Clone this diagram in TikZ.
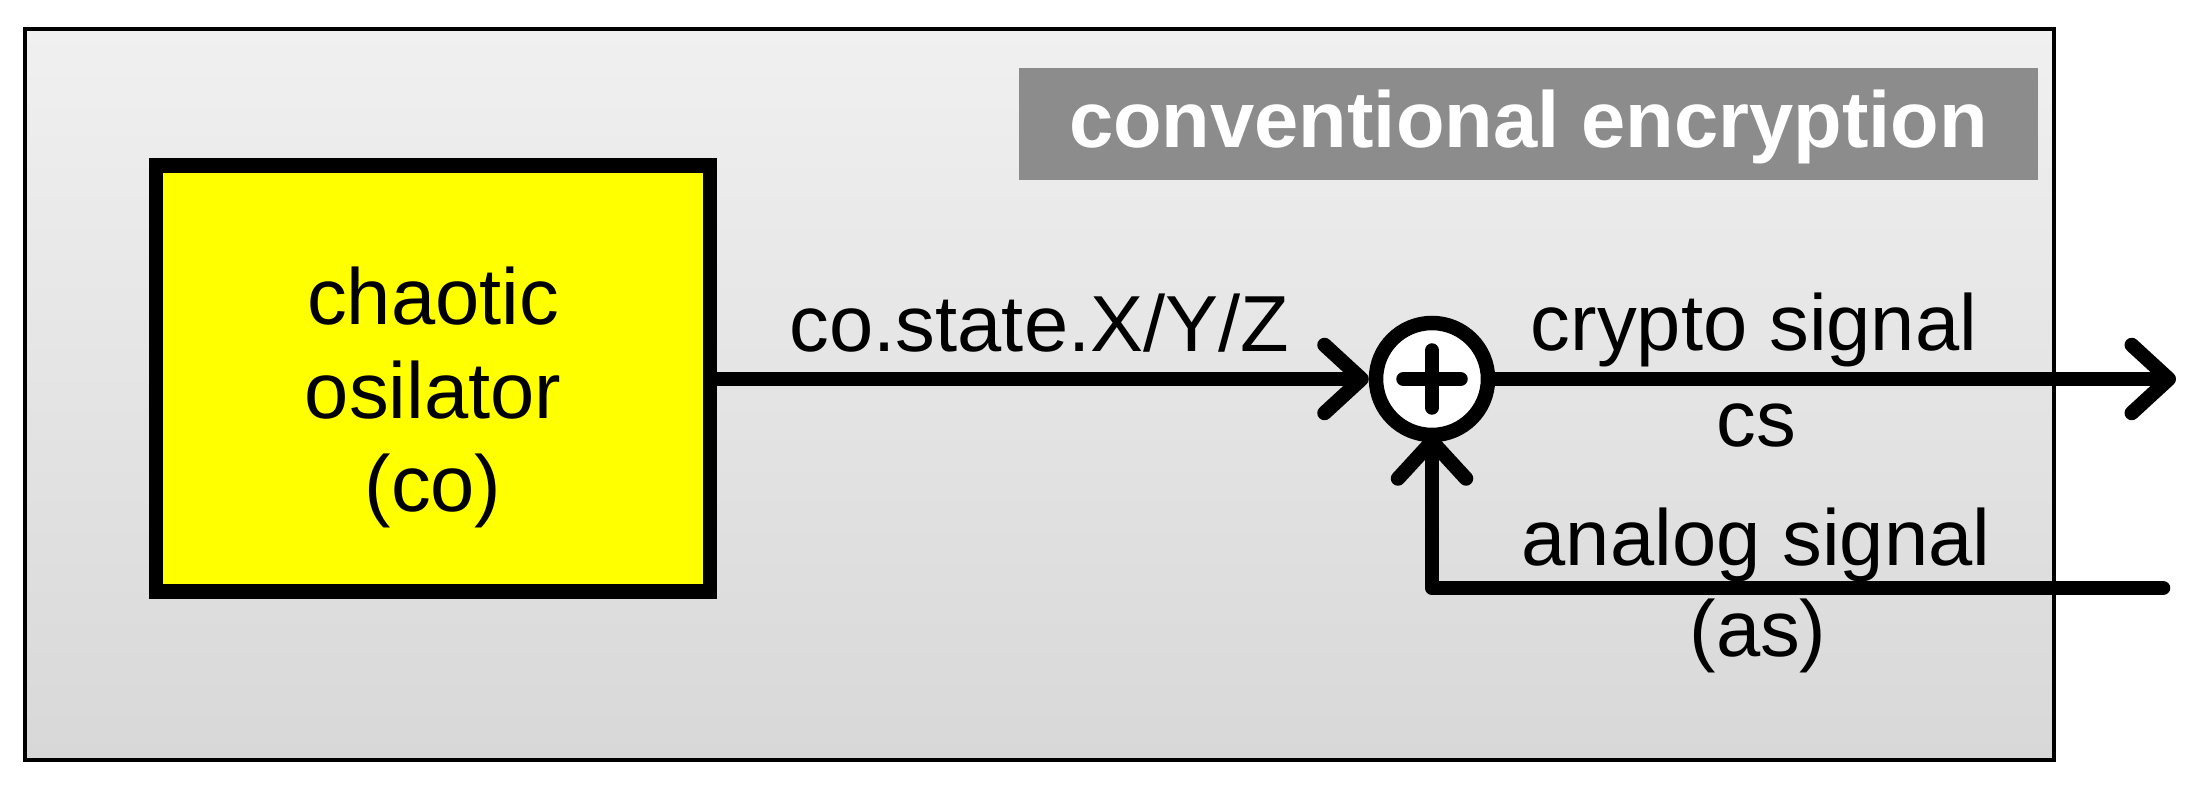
\documentclass[tikz,border=0pt]{standalone}
\usepackage{fontspec}
\setmainfont{Liberation Sans}
\usetikzlibrary{arrows.meta}
\definecolor{bgtop}{HTML}{F0F0F0}
\definecolor{bgbot}{HTML}{D8D8D8}
\definecolor{titlegray}{HTML}{8C8C8C}
\definecolor{coyellow}{HTML}{FFFF00}
\tikzset{
  lbl/.style={font=\fontsize{79.5}{93.5}\selectfont, inner sep=0pt, anchor=base},
  conn/.style={line width=14.5pt, line cap=round, line join=round, -{Straight Barb[length=37pt,width=68pt,round]}},
  cobox/.style={draw, line width=14.5pt, fill=coyellow, minimum width=554pt, minimum height=426pt, inner sep=0pt},
  sumnode/.style={circle, draw, line width=14.5pt, fill=white, minimum size=112pt, inner sep=0pt},
  plusbar/.style={line width=14.5pt, line cap=round},
  titlebox/.style={fill=titlegray, minimum width=1019pt, inner sep=0pt, text height=80pt, text depth=32pt, text=white, font=\bfseries\fontsize{79.5}{93.5}\selectfont}
}
\begin{document}
\begin{tikzpicture}[x=1pt,y=-1pt]
\useasboundingbox (0,0) rectangle (2204,786);
\draw[line width=4pt, top color=bgtop, bottom color=bgbot] (24.5,29.5) rectangle (2054,760);
\node[titlebox] (title) at (1528.5,124) {conventional encryption};
\node[cobox] (co) at (433,378.5) {};
\node[lbl, anchor=north, align=center] (cotext) at (433,267) {chaotic\\osilator\\(co)};
\node[sumnode] (sum) at (1432,379) {};
\draw[plusbar] ([xshift=-28.5pt]sum.center) -- ([xshift=28.5pt]sum.center);
\draw[plusbar] ([yshift=-28.5pt]sum.center) -- ([yshift=28.5pt]sum.center);
\coordinate (csout) at (2176,379);
\coordinate (asin) at (2163,588);
\draw[conn] (co.east |- sum.west) -- (sum.west);
\draw[conn] (sum.east) -- (csout);
\draw[conn] (asin) -| ([yshift=8pt]sum.south);
\node[lbl] (xyz) at (1039.5,352) {co.state.X/Y/Z};
\node[lbl] (cslbl) at (1754,351) {crypto signal};
\node[lbl] (cs) at (1756,446) {cs};
\node[lbl] (aslbl) at (1756,565) {analog signal};
\node[lbl] (as) at (1758,656) {(as)};
\end{tikzpicture}
\end{document}
